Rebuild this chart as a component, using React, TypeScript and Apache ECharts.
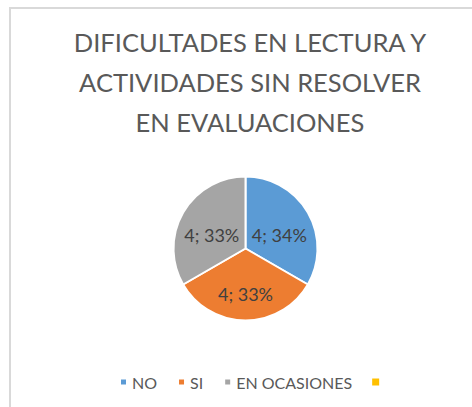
import React, { useEffect, useRef } from "react";
import * as echarts from "echarts";

const titleLines = ["DIFICULTADES EN LECTURA Y", "ACTIVIDADES SIN RESOLVER", "EN EVALUACIONES"];
const categories = ["NO", "SI", "EN OCASIONES", " "];
const values = [4, 4, 4, 0];
const colors = ["#5B9BD5", "#ED7D31", "#A5A5A5", "#FFC000"];

const FONT = "Lato";

export default function App() {
  const ref = useRef<HTMLDivElement>(null);
  useEffect(() => {
    if (!ref.current) return;
    const chart = echarts.init(ref.current, undefined, { renderer: "svg" });
    chart.setOption({
      animation: false,
      backgroundColor: "#ffffff",
      color: colors,
      title: {
        text: titleLines.join("\n"),
        left: 245,
        top: 17,
        textAlign: "center",
        textStyle: {
          fontFamily: FONT,
          fontSize: 25.5,
          fontWeight: "normal",
          color: "#595959",
          lineHeight: 40,
        },
      },
      legend: {
        data: categories,
        left: 114,
        top: 369,
        icon: "rect",
        itemWidth: 7,
        itemHeight: 7,
        itemGap: 20,
        textStyle: { fontFamily: FONT, fontSize: 16, color: "#595959" },
      },
      graphic: [
        {
          type: "rect",
          shape: { x: 10, y: 8, width: 600, height: 600 },
          style: { fill: "none", stroke: "#d9d9d9", lineWidth: 2 },
          silent: true,
        },
      ],
      series: [
        {
          type: "pie",
          center: [245.5, 248.5],
          radius: 72,
          startAngle: 90,
          clockwise: true,
          percentPrecision: 0,
          avoidLabelOverlap: false,
          itemStyle: { borderColor: "#ffffff", borderWidth: 2 },
          label: {
            show: true,
            position: "inside",
            formatter: "{c}; {d}%",
            fontFamily: FONT,
            fontSize: 18,
            color: "#404040",
            offset: [0, 6],
          },
          labelLine: { show: false },
          data: categories.map((name, i) => ({
            name,
            value: values[i],
            ...(values[i] === 0
              ? { label: { show: false }, itemStyle: { borderWidth: 0 } }
              : {}),
          })),
        },
      ],
    });
    return () => chart.dispose();
  }, []);
  return (
    <div
      ref={ref}
      style={{ position: "fixed", left: 0, top: 0, width: 472, height: 407 }}
    />
  );
}
